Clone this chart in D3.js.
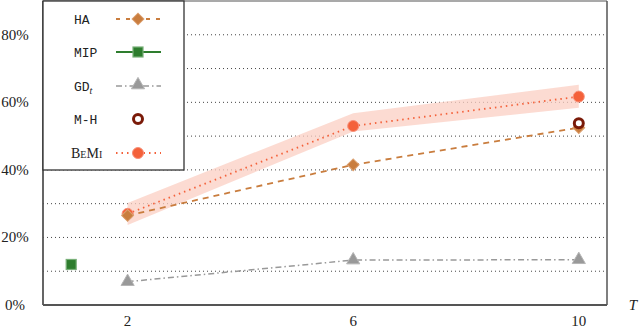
<!DOCTYPE html>
<html><head><meta charset="utf-8">
<script src="https://cdn.jsdelivr.net/npm/d3@7"></script>
<style>body{margin:0;background:#fff}svg{display:block}</style>
</head><body>
<svg id="c" width="640" height="329"></svg>
<script>
const T = [2, 6, 10];
const HA = [26.5, 41.5, 52.5];
const MIP_T = [1];
const MIP = [12];
const GD = [6.9, 13.3, 13.4];
const MH_T = [10];
const MH = [53.8];
const BEMI = [27, 53, 61.7];
const BEMI_LO = [23.7, 51.4, 58.4];
const BEMI_HI = [30.2, 56.8, 65.2];
const yTicks = [0, 20, 40, 60, 80];
const gridVals = [10, 20, 30, 40, 50, 60, 70, 80];
const xTicks = [2, 6, 10];

const svg = d3.select('#c');
const L = 43, R = 607, TOP = 1, B = 305;
const x = d3.scaleLinear().domain([0.5, 10.5]).range([L, R]);
const y = d3.scaleLinear().domain([0, 90]).range([B, TOP]);

const cHA = '#c97d3e', cMIP = '#2e7d2e', cGD = '#999999', cMH = '#7a1a08', cBE = '#f4613a';

// grid
svg.append('g').selectAll('line').data(gridVals).join('line')
  .attr('x1', L).attr('x2', R).attr('y1', d => y(d)).attr('y2', d => y(d))
  .attr('stroke', '#444').attr('stroke-width', 1).attr('stroke-dasharray', '1,3');

// frame
svg.append('line').attr('x1', L).attr('x2', R).attr('y1', TOP).attr('y2', TOP).attr('stroke', '#555').attr('stroke-width', 1.2);
svg.append('line').attr('x1', R).attr('x2', R).attr('y1', TOP).attr('y2', B).attr('stroke', '#555').attr('stroke-width', 1.5);
svg.append('line').attr('x1', L).attr('x2', R).attr('y1', B).attr('y2', B).attr('stroke', '#555').attr('stroke-width', 1.8);
svg.append('line').attr('x1', L).attr('x2', L).attr('y1', TOP).attr('y2', B).attr('stroke', '#555').attr('stroke-width', 1.8);

// axes labels
svg.append('g').selectAll('text').data(yTicks).join('text')
  .attr('x', 15).attr('y', d => y(d) + 5).attr('text-anchor', 'middle')
  .attr('font-family', 'Liberation Serif, serif').attr('font-size', 15).attr('fill', '#222')
  .text(d => d + '%');
svg.append('g').selectAll('text').data(xTicks).join('text')
  .attr('x', d => x(d)).attr('y', 326).attr('text-anchor', 'middle')
  .attr('font-family', 'Liberation Serif, serif').attr('font-size', 15).attr('fill', '#222')
  .text(d => d);
svg.append('text').attr('x', 633).attr('y', 310).attr('text-anchor', 'middle')
  .attr('font-family', 'Liberation Serif, serif').attr('font-style', 'italic').attr('font-size', 15).attr('fill', '#222').text('T');

// band
const bandData = T.map((t, i) => ({t, lo: BEMI_LO[i], hi: BEMI_HI[i]}));
svg.append('path').datum(bandData)
  .attr('d', d3.area().x(d => x(d.t)).y0(d => y(d.lo)).y1(d => y(d.hi)))
  .attr('fill', '#fbcfc3').attr('opacity', 0.75);

const line = d3.line().x(d => x(d[0])).y(d => y(d[1]));
const zip = (xs, ys) => xs.map((v, i) => [v, ys[i]]);

// GD line
svg.append('path').datum(zip(T, GD)).attr('d', line).attr('fill', 'none')
  .attr('stroke', cGD).attr('stroke-width', 1.5).attr('stroke-dasharray', '6,3,1.5,3');
// HA line
svg.append('path').datum(zip(T, HA)).attr('d', line).attr('fill', 'none')
  .attr('stroke', cHA).attr('stroke-width', 1.8).attr('stroke-dasharray', '6,5');
// BeMi line
svg.append('path').datum(zip(T, BEMI)).attr('d', line).attr('fill', 'none')
  .attr('stroke', cBE).attr('stroke-width', 1.8).attr('stroke-dasharray', '1.5,4');

// marker helpers
function diamond(g, cx, cy) {
  g.append('path').attr('d', d3.symbol(d3.symbolSquare, 70)())
    .attr('transform', `translate(${cx},${cy}) rotate(45)`)
    .attr('fill', cHA).attr('stroke', '#dba070').attr('stroke-width', 1);
}
function square(g, cx, cy) {
  g.append('rect').attr('x', cx - 5).attr('y', cy - 5).attr('width', 10).attr('height', 10)
    .attr('fill', cMIP).attr('stroke', '#78b078').attr('stroke-width', 1.2);
}
function triangle(g, cx, cy) {
  g.append('path').attr('d', d3.symbol(d3.symbolTriangle, 75)())
    .attr('transform', `translate(${cx},${cy})`)
    .attr('fill', '#999').attr('stroke', '#b5b5b5').attr('stroke-width', 1);
}
function ring(g, cx, cy) {
  g.append('circle').attr('cx', cx).attr('cy', cy).attr('r', 4.5)
    .attr('fill', '#fff').attr('stroke', cMH).attr('stroke-width', 3);
}
function dot(g, cx, cy) {
  g.append('circle').attr('cx', cx).attr('cy', cy).attr('r', 5.5)
    .attr('fill', cBE).attr('stroke', '#f7907a').attr('stroke-width', 1);
}

const mk = svg.append('g');
zip(T, GD).forEach(d => triangle(mk, x(d[0]), y(d[1])));
zip(MIP_T, MIP).forEach(d => square(mk, x(d[0]), y(d[1])));
zip(T, BEMI).forEach(d => dot(mk, x(d[0]), y(d[1])));
zip(T, HA).forEach(d => diamond(mk, x(d[0]), y(d[1])));
zip(MH_T, MH).forEach(d => ring(mk, x(d[0]), y(d[1])));

// legend
const lg = svg.append('g');
lg.append('rect').attr('x', L).attr('y', TOP).attr('width', 141).attr('height', 169)
  .attr('fill', '#fff').attr('stroke', '#333').attr('stroke-width', 1.3);
const entries = [
  {name: 'HA', yy: 19, mono: true},
  {name: 'MIP', yy: 52, mono: true},
  {name: 'GD', sub: 't', yy: 86, mono: true},
  {name: 'M-H', yy: 119, mono: true},
  {name: 'BeMi', yy: 153, mono: false}
];
entries.forEach(e => {
  const t = lg.append('text').attr('x', 74).attr('y', e.yy + 4.5).attr('fill', '#222');
  if (e.mono) {
    t.attr('font-family', 'Liberation Mono, monospace').attr('font-size', 13).text(e.name);
    if (e.sub) t.append('tspan').attr('font-family', 'Liberation Serif, serif').attr('font-style', 'italic')
      .attr('font-size', 10).attr('dy', 3).text(e.sub);
  } else {
    t.attr('x', 71).attr('font-family', 'Liberation Serif, serif').attr('font-size', 14)
      .attr('font-variant', 'small-caps').text(e.name);
  }
});
const lx0 = 116, lx1 = 161, lc = 138;
lg.append('line').attr('x1', lx0).attr('x2', lx1).attr('y1', 19).attr('y2', 19)
  .attr('stroke', cHA).attr('stroke-width', 1.8).attr('stroke-dasharray', '4,6').attr('stroke-dashoffset', 0);
diamond(lg, lc, 19);
lg.append('line').attr('x1', lx0).attr('x2', lx1).attr('y1', 52).attr('y2', 52)
  .attr('stroke', cMIP).attr('stroke-width', 1.8);
square(lg, lc, 52);
lg.append('line').attr('x1', lx0).attr('x2', lx1).attr('y1', 86).attr('y2', 86)
  .attr('stroke', cGD).attr('stroke-width', 1.5).attr('stroke-dasharray', '6,3,1.5,3');
triangle(lg, lc, 85);
ring(lg, lc, 119);
lg.append('line').attr('x1', lx0).attr('x2', lx1).attr('y1', 153).attr('y2', 153)
  .attr('stroke', cBE).attr('stroke-width', 1.8).attr('stroke-dasharray', '1.5,4');
dot(lg, lc, 153);
</script>
</body></html>
